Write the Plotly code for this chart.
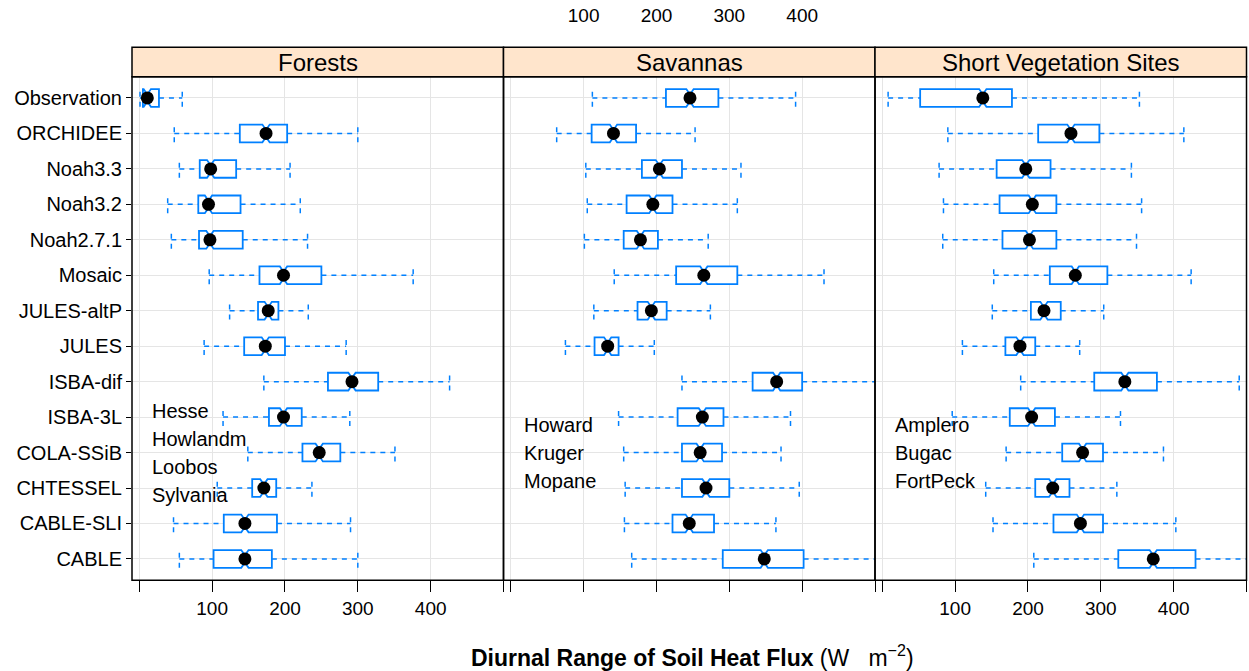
import plotly.graph_objects as go

# ---- data -------------------------------------------------------------
models = ["Observation", "ORCHIDEE", "Noah3.3", "Noah3.2", "Noah2.7.1", "Mosaic",
          "JULES-altP", "JULES", "ISBA-dif", "ISBA-3L", "COLA-SSiB", "CHTESSEL",
          "CABLE-SLI", "CABLE"]
panels = ["Forests", "Savannas", "Short Vegetation Sites"]

# Forests: whisker low, Q1, median, Q3, whisker high (W m-2)
forests_lo = [1, 48, 55, 39, 44, 96, 124, 89, 171, 115, 149, 107, 47, 55]
forests_q1 = [5, 138, 83, 81, 82, 165, 163, 144, 259, 178, 224, 155, 116, 102]
forests_med = [11, 174, 98, 95, 97, 198, 177, 173, 292, 198, 247, 171, 145, 145]
forests_q3 = [27, 203, 133, 139, 142, 250, 191, 200, 328, 223, 276, 188, 189, 182]
forests_hi = [59, 300, 207, 221, 231, 376, 232, 284, 426, 289, 351, 237, 290, 300]

# Savannas
savannas_lo = [112, 63, 103, 105, 101, 142, 114, 75, 235, 148, 155, 157, 156, 166]
savannas_q1 = [213, 111, 180, 159, 155, 227, 174, 115, 332, 229, 235, 235, 222, 291]
savannas_med = [246, 141, 204, 195, 178, 265, 193, 133, 365, 263, 260, 268, 245, 348]
savannas_q3 = [285, 172, 235, 222, 202, 311, 214, 148, 400, 292, 290, 300, 279, 402]
savannas_hi = [391, 253, 316, 311, 271, 430, 274, 197, 540, 384, 371, 396, 364, 540]

# Short vegetation sites
shortveg_lo = [8, 90, 78, 84, 83, 153, 151, 110, 190, 96, 170, 142, 152, 208]
shortveg_q1 = [52, 214, 157, 161, 165, 230, 204, 169, 291, 175, 247, 210, 235, 324]
shortveg_med = [138, 259, 197, 206, 202, 265, 222, 189, 333, 205, 275, 234, 272, 372]
shortveg_q3 = [178, 298, 231, 239, 239, 309, 245, 210, 377, 237, 303, 257, 303, 430]
shortveg_hi = [353, 414, 342, 356, 349, 424, 304, 271, 490, 327, 386, 322, 403, 540]

# approximate notch half-span around each median
notch_span = [5, 5, 5, 5, 5, 5, 5, 5, 5, 5, 5, 5, 5, 5]

# site names printed inside each panel
forest_sites = ["Hesse", "Howlandm", "Loobos", "Sylvania"]
savanna_sites = ["Howard", "Kruger", "Mopane"]
shortveg_sites = ["Amplero", "Bugac", "FortPeck"]

x_ticks = [0, 100, 200, 300, 400, 500]
x_labels = ["", "100", "200", "300", "400", ""]
top_ticks = [100, 200, 300, 400]

# ---- styling ----------------------------------------------------------
W, H = 1249, 671
FONT = "Liberation Sans, Arial, Helvetica, sans-serif"
BLUE = "#0080ff"
GRID = "#e5e5e5"
STRIP = "#ffe5cc"

panel_px = [(132.0, 503.5), (503.5, 875.0), (875.0, 1246.5)]
panel_top, panel_bot = 76.7, 580.2
strip_top = 47.3


def px_x(p):
    return p / W


def px_y(p):
    return 1 - p / H


ypos = list(range(len(models), 0, -1))  # Observation on top
half_box = 0.25

panel_data = [
    (forests_lo, forests_q1, forests_med, forests_q3, forests_hi),
    (savannas_lo, savannas_q1, savannas_med, savannas_q3, savannas_hi),
    (shortveg_lo, shortveg_q1, shortveg_med, shortveg_q3, shortveg_hi),
]

fig = go.Figure()

for k, (lo, q1, med, q3, hi) in enumerate(panel_data):
    xa = "x" if k == 0 else f"x{k + 1}"
    ya = "y" if k == 0 else f"y{k + 1}"

    # dashed whiskers with dashed end bars
    wx, wy = [], []
    for a, b, c, d, p in zip(lo, q1, q3, hi, ypos):
        wx += [a, b, None, c, d, None, a, a, None, d, d, None]
        wy += [p, p, None, p, p, None, p - half_box, p + half_box, None,
               p - half_box, p + half_box, None]
    fig.add_trace(go.Scatter(
        x=wx, y=wy, mode="lines", xaxis=xa, yaxis=ya,
        line=dict(color=BLUE, width=1.5, dash="5px,5px"),
        hoverinfo="skip", showlegend=False))

    # notched boxes (whiskers drawn separately above)
    fig.add_trace(go.Box(
        y=ypos, q1=q1, median=med, q3=q3, lowerfence=q1, upperfence=q3,
        notchspan=notch_span, notched=True, notchwidth=0.3,
        orientation="h", width=2 * half_box, whiskerwidth=0,
        fillcolor="white", line=dict(color=BLUE, width=1.8),
        xaxis=xa, yaxis=ya, showlegend=False, hoverinfo="skip"))

    # median dots
    fig.add_trace(go.Scatter(
        x=med, y=ypos, mode="markers", xaxis=xa, yaxis=ya,
        marker=dict(color="black", size=13, line=dict(width=0)),
        showlegend=False, hoverinfo="skip"))

# invisible trace so the top axis of the middle panel is drawn
fig.add_trace(go.Scatter(x=[top_ticks[0]], y=[1], mode="markers", xaxis="x4", yaxis="y2",
                         marker=dict(opacity=0), showlegend=False, hoverinfo="skip"))

y_dom = [px_y(panel_bot), px_y(panel_top)]
layout = dict(
    width=W, height=H, margin=dict(l=0, r=0, t=0, b=0),
    paper_bgcolor="white", plot_bgcolor="white",
    font=dict(family=FONT, color="black"),
    showlegend=False,
)

for k, (a, b) in enumerate(panel_px):
    xname = "xaxis" if k == 0 else f"xaxis{k + 1}"
    yname = "yaxis" if k == 0 else f"yaxis{k + 1}"
    yref = "y" if k == 0 else f"y{k + 1}"
    xref = "x" if k == 0 else f"x{k + 1}"
    layout[xname] = dict(
        domain=[px_x(a), px_x(b)], anchor=yref, range=[-10, 500],
        tickmode="array", tickvals=x_ticks,
        ticktext=x_labels if k != 1 else [""] * len(x_ticks),
        ticks="outside", ticklen=11, tickwidth=1.2, tickcolor="black",
        tickfont=dict(size=19, family=FONT),
        showgrid=True, gridcolor=GRID, gridwidth=1.3, zeroline=False,
        showline=False, fixedrange=True)
    layout[yname] = dict(
        domain=y_dom, anchor=xref, range=[0.4, len(models) + 0.6],
        tickmode="array", tickvals=ypos,
        ticktext=models if k == 0 else [""] * len(models),
        ticks="outside" if k == 0 else "", ticklen=5, tickwidth=1.2, tickcolor="black",
        tickfont=dict(size=20, family=FONT),
        showgrid=True, gridcolor=GRID, gridwidth=1.3, zeroline=False,
        showline=False, fixedrange=True)

# tick labels above the middle panel
layout["xaxis4"] = dict(
    overlaying="x2", side="top", anchor="free", position=px_y(26),
    range=[-10, 500], tickmode="array", tickvals=top_ticks,
    ticktext=[str(v) for v in top_ticks], ticks="", showgrid=False,
    zeroline=False, showline=False, tickfont=dict(size=19, family=FONT),
    fixedrange=True)

fig.update_layout(**layout)

for (a, b), name in zip(panel_px, panels):
    # panel frame
    fig.add_shape(type="rect", xref="paper", yref="paper",
                  x0=px_x(a), x1=px_x(b), y0=px_y(panel_bot), y1=px_y(panel_top),
                  line=dict(color="black", width=1.5), layer="above")
    # strip with panel title
    fig.add_shape(type="rect", xref="paper", yref="paper",
                  x0=px_x(a), x1=px_x(b), y0=px_y(panel_top), y1=px_y(strip_top),
                  fillcolor=STRIP, line=dict(color="black", width=1.5), layer="above")
    fig.add_annotation(text=name, xref="paper", yref="paper",
                       x=px_x((a + b) / 2), y=px_y((panel_top + strip_top) / 2),
                       xanchor="center", yanchor="middle", showarrow=False,
                       font=dict(size=24, family=FONT, color="black"))

# site names inside panels
site_rows = [(forest_sites, 410.5, 28.3), (savanna_sites, 424.7, 28.3), (shortveg_sites, 424.7, 28.3)]
for (a, b), (names, y0, dy) in zip(panel_px, site_rows):
    for i, s in enumerate(names):
        fig.add_annotation(text=s, xref="paper", yref="paper",
                           x=px_x(a + 18), y=px_y(y0 + i * dy),
                           xanchor="left", yanchor="middle", showarrow=False,
                           font=dict(size=20, family=FONT, color="black"))

# x-axis title
fig.add_annotation(
    text="<b>Diurnal Range of Soil Heat Flux</b> (W\u00a0\u00a0\u00a0m<sup>\u22122</sup>)",
    xref="paper", yref="paper", x=px_x(692), y=px_y(656),
    xanchor="center", yanchor="middle", showarrow=False,
    font=dict(size=23, family=FONT, color="black"))

fig.write_html("out.html")
